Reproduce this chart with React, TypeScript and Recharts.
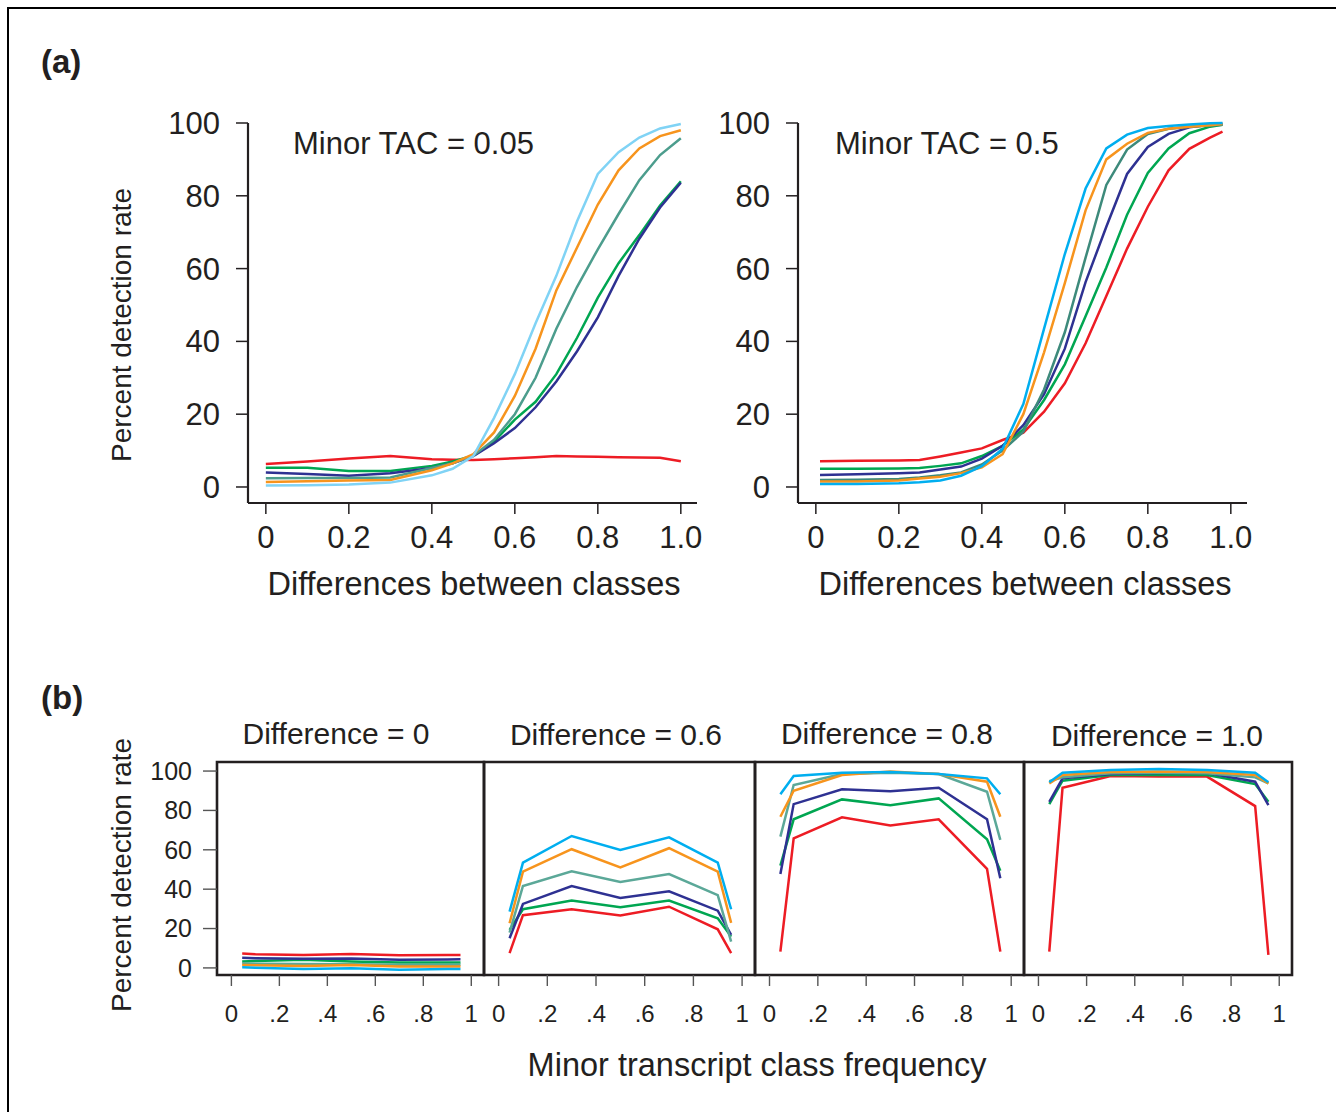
import { LineChart, Line, XAxis, YAxis, ReferenceArea } from "recharts";

const FONT = '"Liberation Sans", Arial, Helvetica, sans-serif';
const INK = "#231f20";

// panel (a) — minor TAC = 0.05
const xTac05 = [0, 0.1, 0.2, 0.3, 0.4, 0.45, 0.5, 0.55, 0.6, 0.65, 0.7, 0.75, 0.8, 0.85, 0.9, 0.95, 1.0];
const red05 = [6.3, 7.0, 7.8, 8.5, 7.6, 7.5, 7.4, 7.6, 7.9, 8.2, 8.5, 8.4, 8.3, 8.2, 8.1, 8.0, 7.1];
const green05 = [5.3, 5.3, 4.4, 4.4, 5.8, 7.0, 8.6, 12.5, 18.5, 23.4, 31, 41, 52, 61.5, 69.2, 77.3, 84];
const navy05 = [4.0, 3.6, 3.1, 3.8, 5.2, 6.5, 8.5, 12, 16.2, 21.9, 29, 37.3, 46.6, 58, 68.2, 76.8, 83.6];
const teal05 = [2.4, 2.5, 2.5, 2.6, 5.2, 6.5, 8.6, 13, 20, 30, 43.5, 55, 65.3, 75, 84.3, 91.2, 95.8];
const orange05 = [1.4, 1.6, 1.8, 1.9, 4.6, 6.5, 9.0, 15, 25, 38, 54, 65.8, 77.6, 87, 93, 96.4, 98];
const sky05 = [0.4, 0.5, 0.7, 1.2, 3.2, 5.0, 8.5, 19, 31, 45, 58, 73, 86, 92, 96, 98.5, 99.7];

// panel (a) — minor TAC = 0.5
const xTac5 = [0.01, 0.1, 0.2, 0.25, 0.3, 0.35, 0.4, 0.45, 0.5, 0.55, 0.6, 0.65, 0.7, 0.75, 0.8, 0.85, 0.9, 0.95, 0.98];
const red5 = [7.1, 7.2, 7.3, 7.4, 8.4, 9.5, 10.6, 12.9, 14.9, 20.7, 28.5, 39.5, 52.5, 65.5, 77, 87, 92.9, 96, 97.6];
const green5 = [5.0, 5.0, 5.1, 5.2, 5.8, 6.5, 8.5, 11.3, 15.8, 23.9, 33.7, 46.9, 60.3, 74.8, 86.3, 93, 97.2, 99, 99.5];
const navy5 = [3.3, 3.5, 3.8, 4.0, 4.8, 5.6, 7.8, 11.3, 17, 25.5, 38, 56.3, 71.5, 86, 93.4, 97, 98.8, 99.5, 99.8];
const teal5 = [1.9, 2.0, 2.2, 2.6, 3.2, 4.0, 6.2, 10, 15.2, 26.8, 42.5, 63, 83, 92.7, 97, 98.4, 99, 99.3, 99.5];
const orange5 = [1.5, 1.5, 1.8, 2.3, 2.8, 3.8, 5.4, 9, 20, 37, 56, 76, 90, 94.3, 97.3, 98.4, 99, 99.4, 99.7];
const sky5 = [0.8, 0.8, 1.0, 1.3, 1.8, 3.1, 5.7, 10.5, 22.8, 43.5, 64, 82, 93, 96.8, 98.6, 99.2, 99.6, 99.9, 100];

// panel (b) — minor transcript class frequency
const xFreq = [0.045, 0.1, 0.3, 0.5, 0.7, 0.9, 0.955];
const d0 = {
  red: [7.3, 7.0, 6.6, 7.1, 6.4, 6.5, 6.6],
  green: [3.2, 3.5, 4.1, 3.2, 2.7, 2.7, 2.7],
  navy: [5.1, 4.9, 4.6, 4.8, 4.1, 4.3, 4.4],
  teal: [2.2, 2.1, 2.0, 1.8, 1.6, 1.6, 1.6],
  orange: [1.5, 1.3, 1.0, 1.5, 0.7, 0.7, 0.7],
  sky: [0.3, 0.1, -0.5, -0.2, -0.9, -0.5, -0.5],
};
const d06 = {
  red: [7.5, 26.8, 29.8, 26.6, 31.1, 19.6, 7.5],
  green: [19.3, 29.8, 34.2, 30.8, 34.2, 25.2, 15.9],
  navy: [15.1, 32.5, 41.6, 35.5, 38.9, 29.1, 16.8],
  teal: [17.9, 41.6, 49.1, 43.7, 47.7, 37, 13.4],
  orange: [22.7, 48.9, 60.3, 51.1, 60.8, 48.9, 22.9],
  sky: [28.6, 53.5, 67, 59.9, 66.3, 53.5, 29.8],
};
const d08 = {
  red: [8.3, 65.8, 76.5, 72.4, 75.5, 50.3, 8.3],
  green: [52, 75.5, 85.6, 82.6, 86.1, 65.3, 49.4],
  navy: [47.7, 83.2, 90.7, 89.8, 91.5, 75.5, 45.5],
  teal: [66.7, 92.9, 98.5, 99.1, 98.5, 89.5, 65],
  orange: [76.8, 90, 98, 99.8, 98.5, 94.6, 76.8],
  sky: [88.2, 97.5, 99.1, 99.5, 98.5, 96.3, 88.2],
};
const d10 = {
  red: [8.3, 91.5, 97.5, 97.2, 97.2, 82.2, 6.6],
  green: [83.2, 95.1, 98, 98, 98, 93.4, 84.4],
  navy: [84.4, 96.3, 98.5, 99, 99, 94.6, 82.7],
  teal: [94.8, 96.8, 98.9, 99.1, 98.9, 96.8, 93.7],
  orange: [93.7, 98, 99.5, 99.8, 99.5, 98, 93.7],
  sky: [94.3, 99.1, 100.5, 101, 100.5, 99.1, 94.3],
};

const xTicksA = [0, 0.2, 0.4, 0.6, 0.8, 1.0];
const yTicks = [0, 20, 40, 60, 80, 100];
const KEYS = ["red", "green", "navy", "teal", "orange", "sky"];

const base = { red: "#ed1c24", green: "#00a651", navy: "#2e3192", orange: "#f7941d" };
const colorsLeft = { ...base, teal: "#4c9d8d", sky: "#80d3f5" };
const colorsRight = { ...base, teal: "#3d8a7b", sky: "#00aeef" };
const colorsB = { ...base, teal: "#5ba898", sky: "#00aeef" };

function rows(x: number[], s: Record<string, number[]>) {
  return x.map((v, i) => {
    const r: any = { x: v };
    for (const k in s) r[k] = s[k][i];
    return r;
  });
}

const dataLeft = rows(xTac05, { red: red05, green: green05, navy: navy05, teal: teal05, orange: orange05, sky: sky05 });
const dataRight = rows(xTac5, { red: red5, green: green5, navy: navy5, teal: teal5, orange: orange5, sky: sky5 });

function Txt({ x, y, size, children, rotate, bold, anchor }: any) {
  const tx = anchor === "start" ? "0" : "-50%";
  return (
    <div
      style={{
        position: "absolute",
        left: x,
        top: y,
        fontSize: size,
        lineHeight: 1,
        fontFamily: FONT,
        fontWeight: bold ? 700 : 400,
        color: INK,
        whiteSpace: "nowrap",
        transform: `translate(${tx}, -50%)${rotate ? " rotate(-90deg)" : ""}`,
      }}
    >
      {children}
    </div>
  );
}

function TacChart({ left, data, colors }: any) {
  return (
    <div style={{ position: "absolute", left, top: 100 }}>
      <LineChart width={607} height={478} data={data} margin={{ top: 23, right: 10, bottom: 25, left: 0 }}>
        <XAxis
          dataKey="x"
          type="number"
          domain={[-0.043, 1.039]}
          ticks={xTicksA}
          tickFormatter={(v: number) => (v === 0 ? "0" : v.toFixed(1))}
          height={50}
          tickSize={11}
          tickMargin={12}
          axisLine={{ stroke: INK, strokeWidth: 2.2 }}
          tickLine={{ stroke: INK, strokeWidth: 1.5 }}
          tick={{ fill: INK, fontSize: 31, fontFamily: FONT }}
        />
        <YAxis
          type="number"
          domain={[-4.4, 100]}
          ticks={yTicks}
          width={148}
          tickSize={12}
          tickMargin={16}
          axisLine={{ stroke: INK, strokeWidth: 2.2 }}
          tickLine={{ stroke: INK, strokeWidth: 1.5 }}
          tick={{ fill: INK, fontSize: 31, fontFamily: FONT }}
        />
        {KEYS.map((k) => (
          <Line key={k} type="linear" dataKey={k} stroke={colors[k]} strokeWidth={2.5} dot={false} isAnimationActive={false} />
        ))}
      </LineChart>
    </div>
  );
}

const DOM_B: [number, number] = [-0.06, 1.053];
const YDOM_B: [number, number] = [-3.6, 104.6];

function FreqChart({ left, width, set, showY }: any) {
  const yw = showY ? 114 : 0;
  const data = rows(xFreq, set);
  return (
    <div style={{ position: "absolute", left: left - yw - 3, top: 752 }}>
      <LineChart width={yw + width + 6} height={293} data={data} margin={{ top: 10, right: 3, bottom: 10, left: 3 }}>
        <XAxis
          dataKey="x"
          type="number"
          domain={DOM_B}
          ticks={xTicksA}
          tickFormatter={(v: number) => (v === 0 ? "0" : v === 1 ? "1" : v.toFixed(1).replace(/^0/, ""))}
          height={60}
          axisLine={false}
          tickSize={11}
          tickMargin={19}
          tickLine={{ stroke: "#555", strokeWidth: 1.4 }}
          tick={{ fill: INK, fontSize: 24, fontFamily: FONT }}
        />
        <YAxis
          type="number"
          domain={YDOM_B}
          ticks={yTicks}
          width={yw}
          hide={!showY}
          axisLine={false}
          tickSize={14}
          tickMargin={11}
          tickLine={{ stroke: "#555", strokeWidth: 1.4 }}
          tick={{ fill: INK, fontSize: 25, fontFamily: FONT }}
        />
        {KEYS.map((k) => (
          <Line key={k} type="linear" dataKey={k} stroke={colorsB[k as keyof typeof colorsB]} strokeWidth={2.5} dot={false} isAnimationActive={false} />
        ))}
        <ReferenceArea x1={DOM_B[0]} x2={DOM_B[1]} y1={YDOM_B[0]} y2={YDOM_B[1]} fill="none" stroke={INK} strokeWidth={2.6} fillOpacity={0} />
      </LineChart>
    </div>
  );
}

export default function App() {
  return (
    <div style={{ position: "absolute", left: 0, top: 0, width: 1336, height: 1112, overflow: "hidden", background: "#fff" }}>
      <div
        style={{
          position: "absolute",
          left: 7,
          top: 7,
          width: 1340,
          height: 1120,
          borderLeft: "2px solid #000",
          borderTop: "2px solid #000",
        }}
      />
      <Txt x={41} y={61} size={33} bold anchor="start">(a)</Txt>
      <Txt x={41} y={697} size={33} bold anchor="start">(b)</Txt>

      <TacChart left={100} data={dataLeft} colors={colorsLeft} />
      <TacChart left={650} data={dataRight} colors={colorsRight} />

      <Txt x={293} y={143} size={31} anchor="start">Minor TAC = 0.05</Txt>
      <Txt x={835} y={143} size={31} anchor="start">Minor TAC = 0.5</Txt>
      <Txt x={122} y={325} size={28} rotate>Percent detection rate</Txt>
      <Txt x={474} y={584} size={32.5}>Differences between classes</Txt>
      <Txt x={1025} y={584} size={32.5}>Differences between classes</Txt>

      <FreqChart left={217} width={267} set={d0} showY />
      <FreqChart left={484} width={271} set={d06} />
      <FreqChart left={755} width={269} set={d08} />
      <FreqChart left={1024} width={268} set={d10} />

      <Txt x={336} y={734} size={30}>Difference = 0</Txt>
      <Txt x={616} y={735} size={30}>Difference = 0.6</Txt>
      <Txt x={887} y={734} size={30}>Difference = 0.8</Txt>
      <Txt x={1157} y={736} size={30}>Difference = 1.0</Txt>
      <Txt x={122} y={875} size={28} rotate>Percent detection rate</Txt>
      <Txt x={757} y={1065} size={32.5}>Minor transcript class frequency</Txt>
    </div>
  );
}
